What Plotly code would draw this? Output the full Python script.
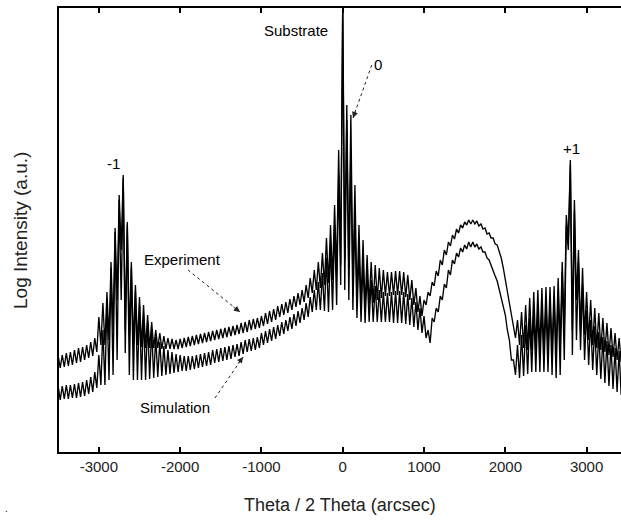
import plotly.graph_objects as go

# Theta / 2Theta grid (arcsec): fringe maxima at these angles, minima half a fringe later
theta = list(range(-3500, 3451, 50))
half_fringe = 25

# Log intensity (a.u.): fringe maxima / minima
exp_hi = [
    96, 97, 99, 100, 102, 104, 105, 107, 110, 114,
    135, 149, 160, 190, 224, 257, 277, 230, 190, 167,
    155, 147, 137, 130, 122, 119, 116, 114, 113, 112,
    113, 114, 115, 116, 117, 118, 119, 120, 121, 122,
    123, 124, 125, 126, 127, 129, 130, 132, 133, 134,
    136, 139, 141, 143, 146, 148, 150, 153, 156, 159,
    162, 167, 174, 182, 190, 199, 214, 227, 247, 302,
    452, 347, 337, 267, 227, 212, 197, 190, 187, 184,
    182, 180, 180, 181, 181, 180, 177, 172, 164, 156,
    152, 160, 170, 181, 192, 202, 210, 217, 223, 227,
    230, 232, 232, 231, 228, 224, 219, 214, 207, 194,
    172, 152, 127, 132, 140, 147, 154, 160, 162, 164,
    165, 165, 166, 174, 190, 237, 292, 252, 202, 184,
    160, 152, 144, 139, 134, 129, 124, 119, 114, 110]
exp_lo = [
    84, 85, 86, 87, 89, 90, 92, 94, 96, 100,
    107, 107, 112, 122, 152, 202, 122, 117, 107, 107,
    105, 104, 104, 104, 104, 103, 103, 103, 103, 103,
    104, 105, 106, 107, 108, 109, 110, 111, 112, 113,
    114, 115, 116, 117, 118, 119, 120, 122, 123, 124,
    126, 128, 130, 132, 135, 137, 139, 142, 145, 147,
    150, 154, 159, 162, 164, 167, 169, 172, 177, 187,
    192, 182, 167, 152, 147, 144, 147, 149, 152, 154,
    156, 156, 157, 157, 157, 155, 152, 147, 140, 136,
    147, 156, 166, 176, 187, 197, 206, 213, 219, 224,
    227, 228, 228, 226, 223, 218, 214, 208, 200, 184,
    162, 137, 114, 107, 104, 102, 102, 102, 102, 102,
    102, 100, 100, 107, 122, 212, 122, 152, 122, 117,
    112, 107, 104, 102, 100, 97, 95, 92, 90, 87]
sim_hi = [
    66, 66, 67, 67, 68, 69, 70, 72, 75, 80,
    97, 122, 152, 184, 220, 252, 274, 227, 184, 162,
    147, 137, 130, 122, 115, 110, 106, 102, 100, 98,
    97, 96, 96, 96, 97, 98, 99, 100, 102, 103,
    104, 105, 106, 107, 108, 110, 112, 113, 114, 115,
    119, 121, 123, 125, 127, 130, 132, 135, 138, 141,
    144, 149, 155, 162, 170, 179, 194, 207, 227, 277,
    442, 332, 302, 237, 202, 190, 180, 172, 166, 162,
    160, 159, 160, 161, 161, 160, 158, 154, 150, 144,
    136, 122, 134, 144, 156, 168, 182, 192, 199, 204,
    207, 210, 210, 208, 205, 200, 192, 182, 171, 156,
    137, 112, 92, 107, 117, 127, 134, 140, 144, 147,
    149, 152, 154, 162, 180, 227, 287, 242, 190, 167,
    142, 132, 126, 120, 115, 111, 107, 104, 101, 98]
sim_lo = [
    52, 53, 53, 54, 54, 55, 56, 58, 60, 64,
    67, 67, 72, 77, 92, 152, 99, 77, 72, 72,
    72, 72, 73, 74, 75, 76, 77, 78, 79, 80,
    81, 81, 82, 83, 84, 85, 86, 87, 89, 90,
    91, 92, 93, 95, 96, 98, 100, 101, 102, 104,
    107, 109, 111, 113, 116, 118, 121, 123, 126, 129,
    132, 135, 140, 142, 142, 141, 140, 142, 147, 167,
    162, 152, 142, 134, 130, 129, 130, 130, 130, 130,
    130, 130, 129, 129, 129, 128, 127, 125, 122, 119,
    114, 109, 130, 140, 152, 164, 177, 188, 195, 200,
    203, 205, 205, 203, 200, 194, 186, 176, 162, 147,
    122, 92, 77, 74, 76, 78, 80, 80, 80, 80,
    80, 77, 74, 77, 92, 202, 97, 112, 102, 92,
    87, 82, 77, 73, 69, 66, 63, 60, 57, 54]

tick_vals = [-3000, -2000, -1000, 0, 1000, 2000, 3000]
tick_text = ["-3000", "-2000", "-1000", "0", "1000", "2000", "3000"]


def zigzag(hi, lo):
    xs, ys = [], []
    for t, h, l in zip(theta, hi, lo):
        xs += [t, t + half_fringe]
        ys += [h, l]
    return xs, ys


FONT = "Liberation Sans, Arial, sans-serif"
fig = go.Figure()
for name, hi, lo in [("Experiment", exp_hi, exp_lo), ("Simulation", sim_hi, sim_lo)]:
    xs, ys = zigzag(hi, lo)
    fig.add_trace(go.Scatter(x=xs, y=ys, mode="lines", name=name,
                             line=dict(color="black", width=1.35), showlegend=False))

# labels and dashed arrows (tail -> tip)
arrows = [
    ("0", (357, 387), (127, 334), 3, -9),
    ("Experiment", (-1903, 182), (-1263, 140), -8, -6),
    ("Simulation", (-1571, 54), (-1226, 95), -6, 8),
]
for _, tail, tip, ax, ay in arrows:
    fig.add_shape(type="line", x0=tail[0], y0=tail[1], x1=tip[0], y1=tip[1],
                  xref="x", yref="y", line=dict(color="#222", width=1, dash="dot"))
    fig.add_annotation(x=tip[0], y=tip[1], ax=ax, ay=ay, text="", showarrow=True,
                       arrowhead=2, arrowsize=1.2, arrowwidth=1, arrowcolor="#222")

labels = [
    ("Substrate", -580, 422),
    ("0", 434, 388),
    ("-1", -2824, 289),
    ("+1", 2818, 304),
    ("Experiment", -1970, 193),
    ("Simulation", -2060, 45),
]
for txt, x, y in labels:
    fig.add_annotation(x=x, y=y, text=txt, showarrow=False,
                       font=dict(family=FONT, size=15, color="black"))

fig.add_annotation(xref="paper", yref="paper", x=0.5, y=-0.119,
                   xanchor="center", yanchor="middle",
                   text="Theta / 2 Theta (arcsec)", showarrow=False,
                   font=dict(family=FONT, size=18, color="#222"))
fig.add_annotation(xref="paper", yref="paper", x=-0.0694, y=0.5, textangle=-90,
                   xanchor="center", yanchor="middle",
                   text="Log Intensity (a.u.)", showarrow=False,
                   font=dict(family=FONT, size=19, color="#222"))
fig.add_annotation(xref="paper", yref="paper", x=-0.0935, y=-0.128, text=".",
                   xanchor="center", yanchor="middle",
                   showarrow=False, font=dict(family=FONT, size=10, color="black"))

fig.update_layout(
    width=621, height=521,
    margin=dict(l=59, r=0, t=8, b=69),
    paper_bgcolor="white", plot_bgcolor="white",
    font=dict(family=FONT, size=15, color="black"),
    xaxis=dict(range=[-3490, 3423], tickvals=tick_vals, ticktext=tick_text,
               ticks="inside", ticklen=5, tickwidth=1.5, tickcolor="black",
               showline=True, linecolor="black", linewidth=2, mirror="ticks",
               showgrid=False, zeroline=False,
               tickfont=dict(family=FONT, size=15, color="#222")),
    yaxis=dict(range=[0, 444], showticklabels=False, ticks="",
               showline=True, linecolor="black", linewidth=2, mirror=False,
               showgrid=False, zeroline=False),
)
fig.write_html("out.html")
